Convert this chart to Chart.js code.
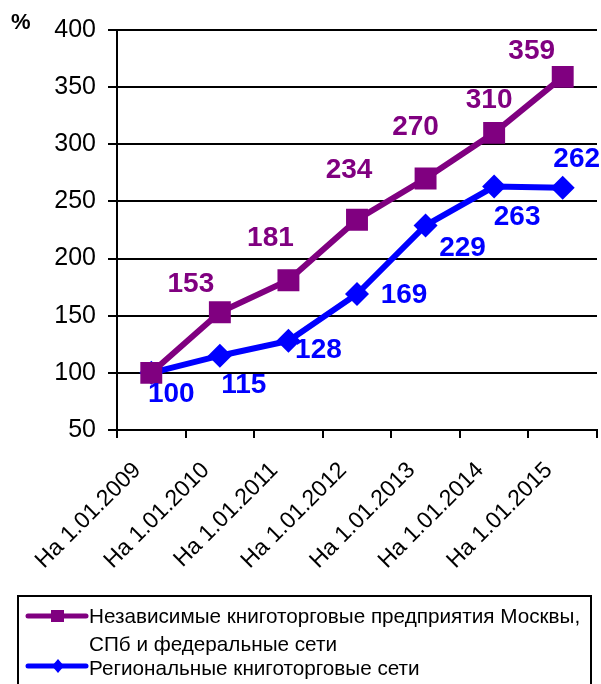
<!DOCTYPE html>
<html>
<head>
<meta charset="utf-8">
<script src="https://cdn.jsdelivr.net/npm/chart.js@4"></script>
<style>
  html, body { margin: 0; padding: 0; background: #fff; }
  #wrap { width: 601px; height: 684px; position: relative; }
</style>
</head>
<body>
<div id="wrap"><canvas id="chart"></canvas></div>
<script>
const categories = ['На 1.01.2009', 'На 1.01.2010', 'На 1.01.2011', 'На 1.01.2012', 'На 1.01.2013', 'На 1.01.2014', 'На 1.01.2015'];
const independentStores = [100, 153, 181, 234, 270, 310, 359];
const regionalChains = [100, 115, 128, 169, 229, 263, 262];
const seriesNames = ['Независимые книготорговые предприятия Москвы, СПб и федеральные сети', 'Региональные книготорговые сети'];
const yTicks = [50, 100, 150, 200, 250, 300, 350, 400];

const PURPLE = '#800080';
const BLUE = '#0000ff';

// where each value label sits relative to its point (px), null = not drawn
const labelOffsets = [
  [null, [-29, -29], [-18, -43], [-8, -50], [-10, -52], [-5, -34], [-31, -27]],
  [[20, 20], [24, 29], [30, 8], [47, 0], [37, 22], [23, 30], [14, -29]]
];

// value labels drawn next to the markers
const valueLabels = {
  id: 'valueLabels',
  afterDatasetsDraw(chart) {
    const ctx = chart.ctx;
    ctx.save();
    ctx.font = 'bold 28px Arial';
    ctx.textAlign = 'center';
    ctx.textBaseline = 'middle';
    chart.data.datasets.forEach((ds, i) => {
      const meta = chart.getDatasetMeta(i);
      ctx.fillStyle = ds.borderColor;
      meta.data.forEach((pt, j) => {
        const off = labelOffsets[i][j];
        if (!off) return;
        ctx.fillText(String(ds.data[j]), pt.x + off[0], pt.y + off[1] + 1);
      });
    });
    ctx.restore();
  }
};

// "%" caption and boxed legend under the axis labels
const boxLegend = {
  id: 'boxLegend',
  afterDraw(chart) {
    const ctx = chart.ctx;
    ctx.save();
    ctx.fillStyle = '#000';
    ctx.font = 'bold 22px Arial';
    ctx.textAlign = 'left';
    ctx.textBaseline = 'middle';
    ctx.fillText('%', 11, 23);

    ctx.strokeStyle = '#000';
    ctx.lineWidth = 2;
    ctx.strokeRect(18, 596, 573, 100);

    ctx.font = '20.7px Arial';
    const rows = [
      { y: 616, color: PURPLE, square: true, lines: ['Независимые книготорговые предприятия Москвы,', 'СПб и федеральные сети'] },
      { y: 666, color: BLUE, square: false, lines: ['Региональные книготорговые сети'] }
    ];
    rows.forEach((r, idx) => {
      ctx.strokeStyle = r.color;
      ctx.fillStyle = r.color;
      ctx.lineWidth = 5;
      ctx.lineCap = 'round';
      ctx.beginPath();
      ctx.moveTo(28, r.y);
      ctx.lineTo(86, r.y);
      ctx.stroke();
      if (r.square) {
        ctx.fillRect(51, r.y - 6, 13, 12);
      } else {
        ctx.beginPath();
        ctx.moveTo(58, r.y - 7);
        ctx.lineTo(64, r.y);
        ctx.lineTo(58, r.y + 7);
        ctx.lineTo(52, r.y);
        ctx.closePath();
        ctx.fill();
      }
      ctx.fillStyle = '#000';
      const base = idx === 0 ? r.y + 1 : r.y + 3;
      r.lines.forEach((t, k) => ctx.fillText(t, 89, base + k * 28));
    });
    ctx.restore();
  }
};

new Chart(document.getElementById('chart'), {
  type: 'line',
  data: {
    labels: categories,
    datasets: [
      {
        label: seriesNames[0],
        data: independentStores,
        borderColor: PURPLE,
        backgroundColor: PURPLE,
        borderWidth: 6,
        pointStyle: 'rect',
        pointRadius: 15.5,
        pointBorderWidth: 0,
        tension: 0
      },
      {
        label: seriesNames[1],
        data: regionalChains,
        borderColor: BLUE,
        backgroundColor: BLUE,
        borderWidth: 6,
        pointStyle: 'rectRot',
        pointRadius: 12,
        pointBorderWidth: 0,
        tension: 0
      }
    ]
  },
  options: {
    responsive: true,
    maintainAspectRatio: false,
    animation: false,
    layout: { autoPadding: false, padding: { left: 0, right: 4, top: 30, bottom: 0 } },
    plugins: {
      legend: { display: false },
      tooltip: { enabled: false }
    },
    scales: {
      x: {
        offset: true,
        afterFit: (scale) => {
          scale.height = 254;
          scale.paddingLeft = 0;
          scale.paddingRight = 0;
        },
        grid: { drawOnChartArea: false, color: '#000', lineWidth: 2, tickLength: 8, offset: true },
        border: { color: '#000', width: 2 },
        ticks: {
          color: '#000',
          font: { family: 'Arial', size: 23 },
          minRotation: 45,
          maxRotation: 45,
          padding: 19,
          labelOffset: -14
        }
      },
      y: {
        min: 50,
        max: 400,
        afterFit: (scale) => { scale.width = 117; },
        afterBuildTicks: (scale) => { scale.ticks = yTicks.map((v) => ({ value: v })); },
        grid: { color: '#000', lineWidth: 2, tickLength: 9 },
        border: { color: '#000', width: 2 },
        ticks: {
          color: '#000',
          font: { family: 'Arial', size: 25 },
          padding: 12
        }
      }
    }
  },
  plugins: [valueLabels, boxLegend]
});
</script>
</body>
</html>
